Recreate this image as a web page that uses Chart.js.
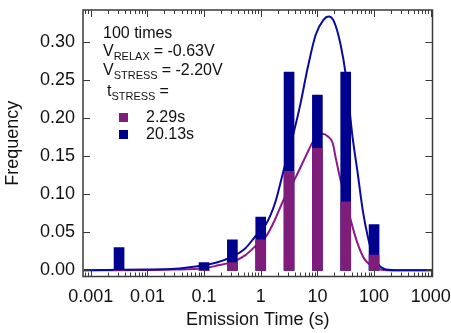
<!DOCTYPE html>
<html>
<head>
<meta charset="utf-8">
<script src="https://cdn.jsdelivr.net/npm/chart.js@4/dist/chart.umd.min.js"></script>
<style>
  html, body { margin: 0; padding: 0; background: #fff; }
  #wrap { width: 451px; height: 333px; }
</style>
</head>
<body>
<div id="wrap"><canvas id="myChart" width="451" height="333"></canvas></div>
<script>
// histogram bins (emission time, s)
const binTimes = [0.00316, 0.1, 0.316, 1, 3.16, 10, 31.6, 100];
const freqShort = [0, 0, 0.01, 0.04, 0.13, 0.16, 0.09, 0.02];   // tSTRESS = 2.29s
const freqLong  = [0.03, 0.01, 0.04, 0.07, 0.26, 0.23, 0.26, 0.06]; // tSTRESS = 20.13s

// fitted distributions
const fitLongX = [0.00076, 0.0091, 0.031, 0.071, 0.105, 0.178, 0.316, 0.537, 0.813, 1.23, 1.82, 2.51,
                  3.8, 5.01, 6.76, 9.33, 12.9, 15.8, 19.5, 25.7, 31.6, 41.7, 51.3, 63.1, 77.6, 93.3,
                  115, 148, 240, 1070];
const fitLongY = [0, 0.001, 0.002, 0.005, 0.007, 0.011, 0.018, 0.029, 0.045, 0.06, 0.09, 0.13,
                  0.18, 0.218, 0.266, 0.309, 0.329, 0.333, 0.327, 0.296, 0.257, 0.175, 0.128, 0.079, 0.044, 0.022,
                  0.009, 0.002, 0, 0];
const fitShortX = [0.00076, 0.031, 0.105, 0.178, 0.316, 0.537, 0.813, 1.23, 1.82, 2.51, 4.07, 6.17,
                   8.71, 12.3, 15.1, 18.6, 21.4, 25.7, 41.7, 51.3, 66.1, 87.1, 115, 200, 1070];
const fitShortY = [0, 0.001, 0.003, 0.0066, 0.011, 0.02, 0.032, 0.044, 0.068, 0.092, 0.121, 0.149,
                   0.171, 0.179, 0.176, 0.167, 0.145, 0.118, 0.057, 0.035, 0.016, 0.0066, 0.002, 0, 0];

const xTicks = [0.001, 0.01, 0.1, 1, 10, 100, 1000];
const yTicks = [0, 0.05, 0.10, 0.15, 0.20, 0.25, 0.30];

const purpleBar = '#7e1e7a';
const blueBar = '#00008f';
const purpleLine = '#8c1a8c';
const blueLine = '#0a0aa0';
const axisColor = '#3a3a3a';
const FONT = '"Liberation Sans", Arial, sans-serif';

function toXY(xs, ys) {
    return xs.map((x, i) => ({ x: x, y: ys[i] }));
}

// frame, inward ticks and the annotation block
const framePlugin = {
    id: 'frame',
    afterDraw(chart) {
        const ctx = chart.ctx;
        const a = chart.chartArea;
        const xs = chart.scales.x;
        const ys = chart.scales.y;
        ctx.save();
        ctx.strokeStyle = axisColor;
        ctx.lineWidth = 1.5;
        ctx.strokeRect(a.left, a.top, a.right - a.left, a.bottom - a.top);

        ctx.lineWidth = 1;
        ctx.beginPath();
        for (let e = -4; e <= 3; e++) {
            for (let k = 1; k <= 9; k++) {
                const v = k * Math.pow(10, e);
                if (v < xs.min || v > xs.max) continue;
                const px = Math.round(xs.getPixelForValue(v)) + 0.5;
                const len = k === 1 ? 7 : 4;
                ctx.moveTo(px, a.bottom);
                ctx.lineTo(px, a.bottom - len);
                ctx.moveTo(px, a.top);
                ctx.lineTo(px, a.top + len);
            }
        }
        for (const v of yTicks) {
            const py = Math.round(ys.getPixelForValue(v)) + 0.5;
            ctx.moveTo(a.left, py);
            ctx.lineTo(a.left + 7, py);
            ctx.moveTo(a.right, py);
            ctx.lineTo(a.right - 7, py);
        }
        ctx.stroke();

        // annotation
        ctx.fillStyle = '#111';
        ctx.textBaseline = 'middle';
        const big = '16px ' + FONT;
        const small = '11px ' + FONT;
        const x0 = a.left + 20;
        function line(y, main, sub, rest) {
            ctx.font = big;
            ctx.fillText(main, x0, y);
            let x = x0 + ctx.measureText(main).width;
            if (sub) {
                ctx.font = small;
                ctx.fillText(sub, x, y + 5);
                x += ctx.measureText(sub).width;
            }
            if (rest) {
                ctx.font = big;
                ctx.fillText(rest, x + 4, y);
            }
        }
        line(34, '100 times');
        line(52, 'V', 'RELAX', '= -0.63V');
        line(71, 'V', 'STRESS', '= -2.20V');
        ctx.save();
        ctx.translate(4, 0);
        line(92, 't', 'STRESS', '=');
        ctx.restore();

        ctx.fillStyle = purpleBar;
        ctx.fillRect(a.left + 36, 113, 9, 9);
        ctx.fillStyle = blueBar;
        ctx.fillRect(a.left + 36, 130, 9, 9);
        ctx.fillStyle = '#111';
        ctx.font = big;
        ctx.fillText('2.29s', a.left + 63, 118);
        ctx.fillText('20.13s', a.left + 63, 135);
        ctx.restore();
    }
};

let data = {
    datasets: [
        {
            type: 'bar',
            label: '2.29s',
            data: toXY(binTimes, freqShort),
            backgroundColor: purpleBar,
            barThickness: 10,
            grouped: false,
            order: 0
        },
        {
            type: 'bar',
            label: '20.13s',
            data: toXY(binTimes, freqLong),
            backgroundColor: blueBar,
            barThickness: 10,
            grouped: false,
            order: 1
        },
        {
            type: 'line',
            label: 'fit 20.13s',
            data: toXY(fitLongX, fitLongY),
            borderColor: blueLine,
            borderWidth: 2,
            pointRadius: 0,
            cubicInterpolationMode: 'monotone',
            order: 2
        },
        {
            type: 'line',
            label: 'fit 2.29s',
            data: toXY(fitShortX, fitShortY),
            borderColor: purpleLine,
            borderWidth: 2,
            pointRadius: 0,
            cubicInterpolationMode: 'monotone',
            order: 3
        }
    ]
};

let config = {
    data: data,
    options: {
        responsive: false,
        animation: false,
        layout: { padding: { top: 10, right: 18.5, left: 0, bottom: 0 } },
        plugins: {
            legend: { display: false },
            tooltip: { enabled: false }
        },
        scales: {
            x: {
                type: 'logarithmic',
                min: 0.00073,
                max: 1075,
                grid: { display: false, drawTicks: false },
                border: { display: false },
                afterBuildTicks: (s) => { s.ticks = xTicks.map(v => ({ value: v })); },
                afterFit: (s) => {
                    s.height = 56.5;
                    s.paddingLeft = 0;
                    s.paddingRight = 0;
                },
                ticks: {
                    autoSkip: false,
                    maxRotation: 0,
                    padding: 10,
                    color: '#111',
                    font: { family: FONT, size: 18 },
                    callback: (v) => String(v)
                },
                title: {
                    display: true,
                    text: 'Emission Time (s)',
                    color: '#111',
                    font: { family: FONT, size: 18 },
                    padding: { top: 0, bottom: 2 }
                }
            },
            y: {
                type: 'linear',
                min: -0.0081,
                max: 0.3415,
                grid: { display: false, drawTicks: false },
                border: { display: false },
                afterBuildTicks: (s) => { s.ticks = yTicks.map(v => ({ value: v })); },
                afterFit: (s) => {
                    s.width = 83;
                    s.paddingTop = 0;
                    s.paddingBottom = 0;
                },
                ticks: {
                    padding: 8,
                    color: '#111',
                    font: { family: FONT, size: 18 },
                    callback: (v) => v.toFixed(2)
                },
                title: {
                    display: true,
                    text: 'Frequency',
                    color: '#111',
                    font: { family: FONT, size: 18 },
                    padding: { top: 2, bottom: 0 }
                }
            }
        }
    },
    plugins: [framePlugin]
};

let myChart = new Chart(document.getElementById('myChart'), config);
</script>
</body>
</html>
